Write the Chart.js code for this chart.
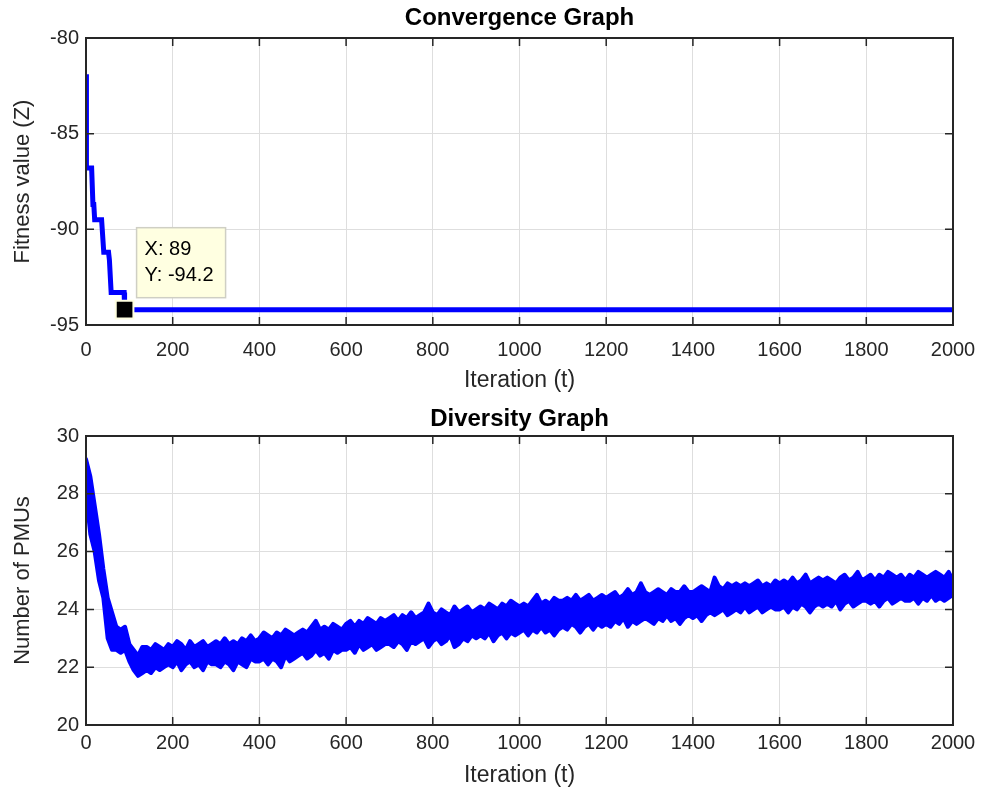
<!DOCTYPE html>
<html>
<head>
<meta charset="utf-8">
<script src="https://cdn.jsdelivr.net/npm/chart.js@4.4.1/dist/chart.umd.min.js"></script>
<style>
  html, body { margin: 0; padding: 0; background: #fff; }
  #wrap { position: relative; width: 982px; height: 794px; }
  canvas { position: absolute; left: 0; }
  #chart-conv { top: 0; }
  #chart-div { top: 400px; }
</style>
</head>
<body>
<div id="wrap">
  <canvas id="chart-conv" width="982" height="400"></canvas>
  <canvas id="chart-div" width="982" height="394"></canvas>
</div>
<script>
// --- data ---
// convergence curve (iteration, fitness)
const convIter = [0, 1, 13, 16, 18, 20, 36, 41, 52, 54, 58, 88, 89, 2000];
const convFit = [-81.9, -86.8, -86.8, -88.7, -88.7, -89.5, -89.5, -91.2, -91.2, -91.6, -93.3, -93.3, -94.2, -94.2];

// data tip on the convergence curve
const tipIter = [89];
const tipFit = [-94.2];

// diversity curve: the noisy series read as its upper and lower envelope,
// one value every divStep iterations
const divStep = 10;
const divHigh = [
  29.2, 28.6, 27.6, 26.6, 25.4, 24.4, 23.9, 23.4, 23.3, 23.4,
  22.8, 22.6, 22.4, 22.7, 22.7, 22.6, 22.8, 22.7, 22.6, 22.8,
  22.7, 22.9, 22.8, 22.6, 22.9, 22.7, 22.8, 22.9, 22.7, 22.8,
  22.9, 22.8, 23.0, 22.8, 22.9, 22.8, 23.0, 22.9, 23.1, 22.9,
  23.0, 23.2, 23.1, 23.0, 23.2, 23.1, 23.3, 23.2, 23.1, 23.2,
  23.3, 23.2, 23.4, 23.6, 23.3, 23.4, 23.3, 23.5, 23.4, 23.3,
  23.5, 23.6, 23.4, 23.6, 23.5, 23.7, 23.6, 23.5, 23.7, 23.6,
  23.7, 23.8, 23.6, 23.8, 23.7, 23.9, 23.7, 23.8, 23.9, 24.2,
  23.9, 23.8, 24.0, 23.9, 23.8, 24.1, 23.9, 24.0, 24.1, 23.9,
  24.0, 24.1, 24.0, 24.2, 24.1, 24.0, 24.2, 24.1, 24.3, 24.2,
  24.1, 24.2, 24.1, 24.3, 24.5, 24.2, 24.3, 24.2, 24.4, 24.3,
  24.3, 24.4, 24.3, 24.5, 24.3, 24.4, 24.5, 24.3, 24.4, 24.5,
  24.4, 24.5, 24.6, 24.4, 24.5, 24.7, 24.5, 24.6, 24.9, 24.6,
  24.5, 24.6, 24.7, 24.6, 24.5, 24.7, 24.6, 24.6, 24.8, 24.6,
  24.6, 24.7, 24.8, 24.7, 24.6, 25.1, 24.8, 24.7, 24.9, 24.8,
  24.9, 24.8, 24.9, 24.8, 24.9, 25.0, 24.8, 24.9, 24.8, 25.0,
  24.9, 25.0, 24.9, 25.1, 24.9, 25.0, 25.2, 24.9, 25.0, 25.1,
  25.0, 25.1, 25.0, 24.9, 25.1, 25.2, 25.0, 25.1, 25.3, 25.0,
  25.1, 25.2, 25.0, 25.2, 25.1, 25.3, 25.2, 25.1, 25.2, 25.0,
  25.2, 25.1, 25.3, 25.2, 25.1, 25.2, 25.3, 25.2, 25.1, 25.3,
  25.0
];
const divLow = [
  28.0, 26.6, 26.0, 25.0, 24.4, 23.0, 22.6, 22.6, 22.5, 22.6,
  22.2, 21.9, 21.7, 21.8, 21.9, 21.8, 22.0, 21.9, 22.0, 22.1,
  22.0, 22.2, 21.9, 22.1, 22.2, 22.0, 22.1, 21.9, 22.2, 22.1,
  22.1, 22.0, 22.2, 22.1, 21.9, 22.2, 22.1, 22.0, 22.3, 22.2,
  22.2, 22.3, 22.1, 22.3, 22.2, 22.0, 22.4, 22.2, 22.3, 22.4,
  22.5, 22.3, 22.4, 22.6, 22.4, 22.5, 22.3, 22.6, 22.5, 22.6,
  22.6, 22.7, 22.5, 22.8, 22.6, 22.7, 22.8, 22.6, 22.7, 22.8,
  22.8, 22.7, 22.9, 22.8, 22.6, 22.9, 22.8, 22.9, 23.0, 22.7,
  22.9, 23.0, 22.8, 22.9, 23.1, 22.7, 22.8, 23.0, 22.9, 23.1,
  23.0, 23.1, 23.0, 23.2, 22.9, 23.1, 23.2, 23.0, 23.2, 23.1,
  23.2, 23.3, 23.1, 23.3, 23.2, 23.4, 23.2, 23.3, 23.1, 23.3,
  23.4, 23.3, 23.5, 23.4, 23.2, 23.4, 23.5, 23.3, 23.5, 23.4,
  23.5, 23.4, 23.6, 23.5, 23.7, 23.4, 23.6, 23.5, 23.6, 23.7,
  23.6, 23.5, 23.7, 23.6, 23.8, 23.6, 23.7, 23.5, 23.7, 23.8,
  23.7, 23.8, 23.6, 23.8, 23.9, 23.8, 23.9, 24.0, 23.8, 23.9,
  24.0, 23.9, 24.1, 23.9, 24.0, 24.1, 23.9, 24.0, 24.1, 24.0,
  24.0, 24.1, 23.9, 24.1, 24.0, 24.2, 24.1, 23.9, 24.1, 24.2,
  24.1, 24.2, 24.1, 24.3, 24.0, 24.2, 24.3, 24.1, 24.2, 24.3,
  24.3, 24.2, 24.3, 24.1, 24.3, 24.4, 24.2, 24.3, 24.4, 24.3,
  24.3, 24.4, 24.2, 24.4, 24.3, 24.5, 24.3, 24.4, 24.3, 24.4,
  24.5
];

const FONT = "'Liberation Sans', Arial, Helvetica, sans-serif";
const AXIS_COLOR = '#262626';
const BLUE = '#0000ff';
const TICK_LEN = 8;

Chart.defaults.font.family = FONT;
Chart.defaults.color = AXIS_COLOR;

// MATLAB style box: frame on all sides and ticks pointing inwards
const matlabBox = {
  id: 'matlabBox',
  afterDatasetsDraw(chart) {
    const { ctx, chartArea: a, scales } = chart;
    const x = scales.x, y = scales.y;
    ctx.save();
    ctx.strokeStyle = AXIS_COLOR;
    ctx.lineWidth = 1.5;
    ctx.beginPath();
    for (const t of x.ticks) {
      const px = x.getPixelForValue(t.value);
      ctx.moveTo(px, a.bottom); ctx.lineTo(px, a.bottom - TICK_LEN);
      ctx.moveTo(px, a.top); ctx.lineTo(px, a.top + TICK_LEN);
    }
    for (const t of y.ticks) {
      const py = y.getPixelForValue(t.value);
      ctx.moveTo(a.left, py); ctx.lineTo(a.left + TICK_LEN, py);
      ctx.moveTo(a.right, py); ctx.lineTo(a.right - TICK_LEN, py);
    }
    ctx.stroke();
    ctx.lineWidth = 2;
    ctx.strokeRect(a.left, a.top, a.right - a.left, a.bottom - a.top);
    ctx.restore();
  }
};

// data tip box next to the marker (dataset 0 of the convergence chart)
const dataTip = {
  id: 'dataTip',
  afterDraw(chart) {
    const pt = chart.getDatasetMeta(0).data[0];
    if (!pt) return;
    const { ctx } = chart;
    const bx = pt.x + 12, w = 89, h = 70;
    const by = pt.y - 12 - h;
    ctx.save();
    ctx.fillStyle = '#ffffe1';
    ctx.strokeStyle = '#cfcfc4';
    ctx.lineWidth = 1.5;
    ctx.fillRect(bx, by, w, h);
    ctx.strokeRect(bx, by, w, h);
    ctx.fillStyle = '#000';
    ctx.font = '20px ' + FONT;
    ctx.textBaseline = 'middle';
    ctx.fillText('X: ' + tipIter[0], bx + 8, by + 22);
    ctx.fillText('Y: ' + tipFit[0].toFixed(1), bx + 8, by + 48);
    ctx.restore();
  }
};

function baseConfig(opts) {
  return {
    type: 'line',
    data: { datasets: [] },
    options: {
      responsive: false,
      animation: false,
      events: [],
      layout: { padding: { left: 0, right: 29, top: 0, bottom: 0 } },
      plugins: {
        legend: { display: false },
        tooltip: { enabled: false },
        title: {
          display: true, text: opts.title, fullSize: false, color: '#000',
          font: { size: 24, weight: 'bold' }, padding: opts.titlePad
        }
      },
      scales: {
        x: {
          type: 'linear', min: 0, max: 2000,
          ticks: {
            stepSize: 200, padding: opts.xTickPad, font: { size: 20 }, color: AXIS_COLOR,
            maxRotation: 0, autoSkip: false, callback: v => String(v)
          },
          grid: { color: '#dedede', lineWidth: 1, drawTicks: false },
          border: { display: false },
          title: { display: true, text: 'Iteration (t)', font: { size: 23 }, color: AXIS_COLOR, padding: { top: 0, bottom: opts.xTitleBottom } },
          afterFit: s => { s.height = opts.xHeight; s.paddingLeft = 0; s.paddingRight = 0; }
        },
        y: {
          type: 'linear', min: opts.yMin, max: opts.yMax,
          ticks: { stepSize: opts.yStep, padding: 7, font: { size: 20 }, color: AXIS_COLOR, callback: v => String(v) },
          grid: { color: '#dedede', lineWidth: 1, drawTicks: false },
          border: { display: false },
          title: { display: true, text: opts.yLabel, font: { size: 22 }, color: AXIS_COLOR, padding: { top: 10, bottom: 0 } },
          afterFit: s => { s.width = 86; s.paddingTop = 0; s.paddingBottom = 0; }
        }
      },
      elements: { line: { tension: 0 } }
    },
    plugins: [matlabBox]
  };
}

// convergence chart
const convCfg = baseConfig({
  title: 'Convergence Graph', yLabel: 'Fitness value (Z)',
  yMin: -95, yMax: -80, yStep: 5,
  titlePad: { top: 4, bottom: 5.2 }, xHeight: 75, xTickPad: 13, xTitleBottom: 6
});
convCfg.data.datasets.push({
  label: 'tip',
  data: tipIter.map((t, i) => ({ x: t, y: tipFit[i] })),
  showLine: false, pointStyle: 'rect', pointRadius: 12.5,
  backgroundColor: '#000', borderColor: '#ffffe1', pointBorderWidth: 2
});
convCfg.data.datasets.push({
  label: 'fitness',
  data: convIter.map((t, i) => ({ x: t, y: convFit[i] })),
  borderColor: BLUE, borderWidth: 5, pointRadius: 0,
  borderJoinStyle: 'miter', borderCapStyle: 'butt'
});
convCfg.plugins.push(dataTip);
new Chart(document.getElementById('chart-conv'), convCfg);

// diversity chart: band between lower and upper envelope
const divCfg = baseConfig({
  title: 'Diversity Graph', yLabel: 'Number of PMUs',
  yMin: 20, yMax: 30, yStep: 2,
  titlePad: { top: 4.6, bottom: 2.6 }, xHeight: 69, xTickPad: 6, xTitleBottom: 5
});
divCfg.data.datasets.push({
  label: 'diversity low',
  data: divLow.map((v, i) => ({ x: i * divStep, y: v })),
  borderColor: BLUE, borderWidth: 4, pointRadius: 0, fill: false,
  borderJoinStyle: 'round', borderCapStyle: 'round'
});
divCfg.data.datasets.push({
  label: 'diversity high',
  data: divHigh.map((v, i) => ({ x: i * divStep, y: v })),
  borderColor: BLUE, backgroundColor: BLUE, borderWidth: 4, pointRadius: 0, fill: '-1',
  borderJoinStyle: 'round', borderCapStyle: 'round'
});
new Chart(document.getElementById('chart-div'), divCfg);
</script>
</body>
</html>
